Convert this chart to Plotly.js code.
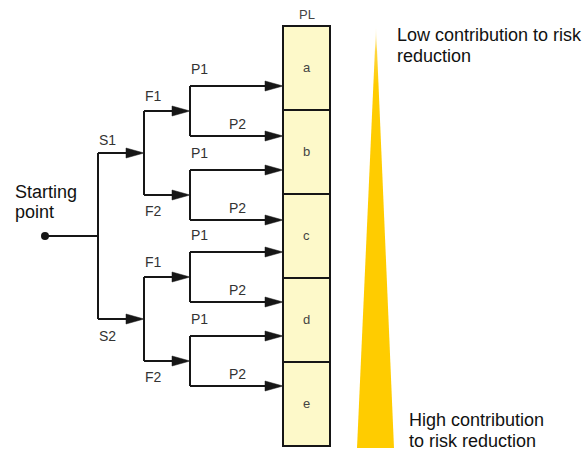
<!DOCTYPE html>
<html>
<head>
<meta charset="utf-8">
<script src="https://cdn.plot.ly/plotly-3.0.1.min.js"></script>
<style>html,body{margin:0;padding:0;background:#fff;}#chart{width:587px;height:450px;}</style>
</head>
<body>
<div id="chart"></div>
<script>
// ---- diagram content ----
const plLevels = ['a', 'b', 'c', 'd', 'e'];
const severity = ['S1', 'S2'];
const frequency = ['F1', 'F2'];
const possibility = ['P1', 'P2'];
const startLabel = ['Starting', 'point'];
const lowLabel = ['Low contribution to risk', 'reduction'];
const highLabel = ['High contribution', 'to risk reduction'];
const plTitle = 'PL';

// ---- layout geometry (pixels) ----
const W = 587, H = 450;
const ink = '#161616';
const lw = 2;
const startPt = {x: 45, y: 236};
const xS = 98, xF = 144, xP = 190, boxL = 283, boxR = 330;
const offS = 83, offF = 42, offP = 25;
const boxTop = 26, cellH = 84;
const headL = 18, headHalf = 5;

const shapes = [];
const annotations = [];

function line(x0, y0, x1, y1) {
  shapes.push({type: 'line', xref: 'x', yref: 'y', x0, y0, x1, y1, line: {color: ink, width: lw}});
}
function arrow(x0, y, xTip) {
  line(x0, y, xTip - headL + 2, y);
  shapes.push({type: 'path', xref: 'x', yref: 'y',
    path: `M ${xTip},${y} L ${xTip - headL},${y - headHalf} L ${xTip - headL},${y + headHalf} Z`,
    fillcolor: ink, line: {color: ink, width: 0.5}});
}
function label(text, x, y, size, color, xanchor) {
  annotations.push({text, x, y, xref: 'x', yref: 'y', showarrow: false,
    xanchor: xanchor || 'center', yanchor: 'middle',
    font: {family: 'Liberation Sans, Arial, sans-serif', size, color}});
}

// PL column
plLevels.forEach((lv, i) => {
  const y0 = boxTop + i * cellH, y1 = y0 + cellH;
  shapes.push({type: 'rect', xref: 'x', yref: 'y', x0: boxL, x1: boxR, y0, y1,
    fillcolor: '#fdf9c9', line: {color: ink, width: lw}});
  label(lv, (boxL + boxR) / 2, (y0 + y1) / 2 - 1, 13, '#444');
});
label(plTitle, (boxL + boxR) / 2, 14, 13, '#444');

// Tree
line(startPt.x, startPt.y, xS, startPt.y);
line(xS, startPt.y - offS, xS, startPt.y + offS);
severity.forEach((s, i) => {
  const ys = startPt.y + (i === 0 ? -offS : offS);
  arrow(xS, ys, xF);
  label(s, xS + 9, i === 0 ? ys - 13 : ys + 17, 14, '#333');
  line(xF, ys - offF, xF, ys + offF);
  frequency.forEach((f, j) => {
    const yf = ys + (j === 0 ? -offF : offF);
    arrow(xF, yf, xP);
    label(f, xF + 9, j === 0 ? yf - 15 : yf + 16, 14, '#333');
    line(xP, yf - offP, xP, yf + offP);
    possibility.forEach((p, k) => {
      const yp = yf + (k === 0 ? -offP : offP);
      arrow(xP, yp, boxL);
      label(p, k === 0 ? xP + 9 : xP + 47, k === 0 ? yp - 17 : yp - 12, 14, '#333');
    });
  });
});

// Text blocks
label(startLabel[0], 13, 192, 18, '#111', 'left');
label(startLabel[1], 13, 212, 18, '#111', 'left');
label(lowLabel[0], 395, 35, 18, '#111', 'left');
label(lowLabel[1], 395, 56, 18, '#111', 'left');
label(highLabel[0], 407, 420, 18, '#111', 'left');
label(highLabel[1], 407, 441, 18, '#111', 'left');

const traces = [
  { // contribution wedge
    x: [376, 394, 357, 376], y: [26, 448, 448, 26],
    mode: 'lines', fill: 'toself', line: {width: 0, color: 'rgba(0,0,0,0)'},
    fillgradient: {type: 'vertical', start: 26, stop: 448,
      colorscale: [[0, 'rgba(255,245,200,0.3)'], [0.06, '#ffd640'], [0.14, '#ffcc00'], [1, '#ffcc00']]},
    hoverinfo: 'skip', showlegend: false
  },
  { // start point
    x: [startPt.x], y: [startPt.y], mode: 'markers',
    marker: {size: 8, color: ink}, hoverinfo: 'skip', showlegend: false
  }
];

const layout = {
  width: W, height: H,
  margin: {l: 0, r: 0, t: 0, b: 0},
  paper_bgcolor: '#fff', plot_bgcolor: '#fff',
  xaxis: {range: [0, W], visible: false, fixedrange: true},
  yaxis: {range: [H, 0], visible: false, fixedrange: true},
  shapes, annotations, showlegend: false
};
Plotly.newPlot('chart', traces, layout, {staticPlot: true});
</script>
</body>
</html>
